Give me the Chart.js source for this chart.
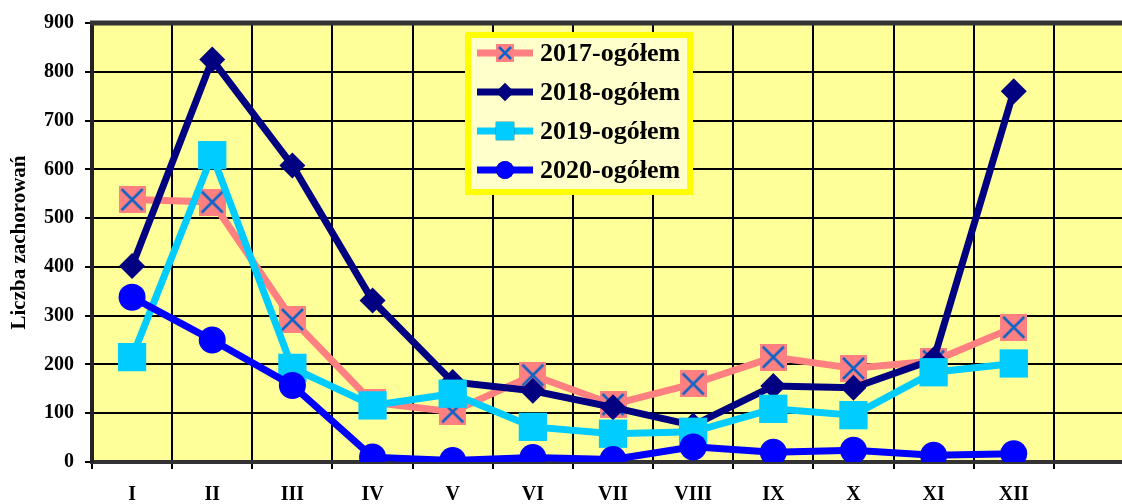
<!DOCTYPE html>
<html>
<head>
<meta charset="utf-8">
<script src="https://cdn.jsdelivr.net/npm/chart.js@4/dist/chart.umd.min.js"></script>
<style>
  html, body { margin: 0; padding: 0; background: #fff; overflow: hidden; }
  canvas { display: block; }
</style>
</head>
<body>
<canvas id="wykres" width="1155" height="504"></canvas>
<script>
// miesiące (ostatnia kolumna pusta, jak w oryginale)
const miesiace = ['I', 'II', 'III', 'IV', 'V', 'VI', 'VII', 'VIII', 'IX', 'X', 'XI', 'XII', ''];
const rok2017 = [538, 533, 292, 122, 103, 178, 118, 160, 215, 192, 207, 276];
const rok2018 = [402, 825, 608, 331, 164, 146, 112, 75, 156, 152, 210, 760];
const rok2019 = [215, 629, 193, 116, 140, 72, 58, 62, 109, 96, 184, 202];
const rok2020 = [338, 250, 157, 10, 3, 9, 5, 31, 20, 24, 14, 17];
const nazwy = ['2017-ogółem', '2018-ogółem', '2019-ogółem', '2020-ogółem'];
const osY = { min: 0, max: 900, krok: 100 };

const FONT = '"Liberation Serif", "Times New Roman", serif';

// kwadrat z krzyżykiem dla 2017
function znacznikX(bok) {
  const c = document.createElement('canvas');
  c.width = bok; c.height = bok;
  const g = c.getContext('2d');
  g.fillStyle = '#FF8080';
  g.fillRect(0, 0, bok, bok);
  g.strokeStyle = '#0A64C8';
  g.lineWidth = 2.5;
  g.beginPath();
  g.moveTo(3, 3); g.lineTo(bok - 3, bok - 3);
  g.moveTo(bok - 3, 3); g.lineTo(3, bok - 3);
  g.stroke();
  return c;
}

const tloWykresu = {
  id: 'tloWykresu',
  beforeDraw(chart) {
    const { ctx, chartArea: a } = chart;
    ctx.save();
    ctx.fillStyle = '#FFFF99';
    ctx.fillRect(a.left, a.top, a.right - a.left, a.bottom - a.top);
    ctx.restore();
  },
  beforeDatasetsDraw(chart) {
    const { ctx, chartArea: a } = chart;
    ctx.save();
    ctx.strokeStyle = '#333';
    ctx.lineWidth = 5;
    ctx.beginPath();
    ctx.moveTo(a.left - 2, a.top);
    ctx.lineTo(a.right, a.top);
    ctx.stroke();
    ctx.restore();
  }
};

// legenda w środku wykresu
const legendaWewn = {
  id: 'legendaWewn',
  afterDraw(chart) {
    const ctx = chart.ctx;
    const x0 = 465, y0 = 32, w = 228, h = 163;
    ctx.save();
    ctx.fillStyle = '#FFFFCC';
    ctx.fillRect(x0, y0, w, h);
    ctx.strokeStyle = '#FFFF00';
    ctx.lineWidth = 6;
    ctx.strokeRect(x0 + 3, y0 + 3, w - 6, h - 6);
    chart.data.datasets.forEach((ds, i) => {
      const y = 53 + i * 39;
      ctx.strokeStyle = ds.borderColor;
      ctx.lineWidth = 7;
      ctx.beginPath();
      ctx.moveTo(477, y);
      ctx.lineTo(533, y);
      ctx.stroke();
      if (ds.legendaZnak === 'x') {
        ctx.drawImage(znacznikX(18), 496, y - 9);
      } else {
        Chart.helpers.drawPoint(ctx, {
          pointStyle: ds.pointStyle, radius: ds.legendaR, borderWidth: 0, rotation: 0
        }, 505, y);
        ctx.fillStyle = ds.backgroundColor;
        ctx.fill();
      }
      ctx.fillStyle = '#000';
      ctx.font = 'bold 26px ' + FONT;
      ctx.textBaseline = 'middle';
      ctx.textAlign = 'left';
      ctx.fillText(ds.label, 540, y + 1);
    });
    ctx.restore();
  }
};

const wykres = new Chart(document.getElementById('wykres'), {
  type: 'line',
  data: {
    labels: miesiace,
    datasets: [
      {
        label: nazwy[0], data: rok2017, order: 4,
        borderColor: '#FF8080', backgroundColor: '#FF8080', borderWidth: 7,
        pointStyle: znacznikX(27), pointRadius: 14, legendaZnak: 'x'
      },
      {
        label: nazwy[1], data: rok2018, order: 3,
        borderColor: '#000080', backgroundColor: '#000080', borderWidth: 7,
        pointStyle: 'rectRot', pointRadius: 13, pointBorderWidth: 0, legendaR: 9
      },
      {
        label: nazwy[2], data: rok2019, order: 2,
        borderColor: '#00CCFF', backgroundColor: '#00CCFF', borderWidth: 7,
        pointStyle: 'rect', pointRadius: 20, pointBorderWidth: 0, legendaR: 13
      },
      {
        label: nazwy[3], data: rok2020, order: 1,
        borderColor: '#0000FF', backgroundColor: '#0000FF', borderWidth: 7,
        pointStyle: 'circle', pointRadius: 13.5, pointBorderWidth: 0, legendaR: 9
      }
    ]
  },
  options: {
    responsive: false,
    animation: false,
    layout: { padding: { top: 22, right: 10, left: 0, bottom: 0 } },
    plugins: {
      legend: { display: false },
      tooltip: { enabled: false }
    },
    scales: {
      x: {
        offset: true,
        grid: { offset: true, color: '#000', lineWidth: 2, tickLength: 7, tickColor: '#000', tickWidth: 2 },
        border: { color: '#333', width: 4 },
        ticks: {
          autoSkip: false, maxRotation: 0, padding: 14, color: '#000',
          font: { family: FONT, size: 20, weight: 'bold' }
        },
        afterFit(s) { s.height = 42; }
      },
      y: {
        min: osY.min, max: osY.max,
        grid: { color: '#000', lineWidth: 2, tickLength: 7, tickColor: '#000', tickWidth: 2 },
        border: { color: '#222', width: 4 },
        ticks: {
          stepSize: osY.krok, padding: 11, color: '#000',
          font: { family: FONT, size: 20, weight: 'bold' }
        },
        title: {
          display: true, text: 'Liczba zachorowań', color: '#000',
          font: { family: FONT, size: 21, weight: 'bold' },
          padding: { top: 7, bottom: 0 }
        },
        afterFit(s) { s.width = 92; }
      }
    }
  },
  plugins: [tloWykresu, legendaWewn]
});
console.log(JSON.stringify(wykres.chartArea));
</script>
</body>
</html>
